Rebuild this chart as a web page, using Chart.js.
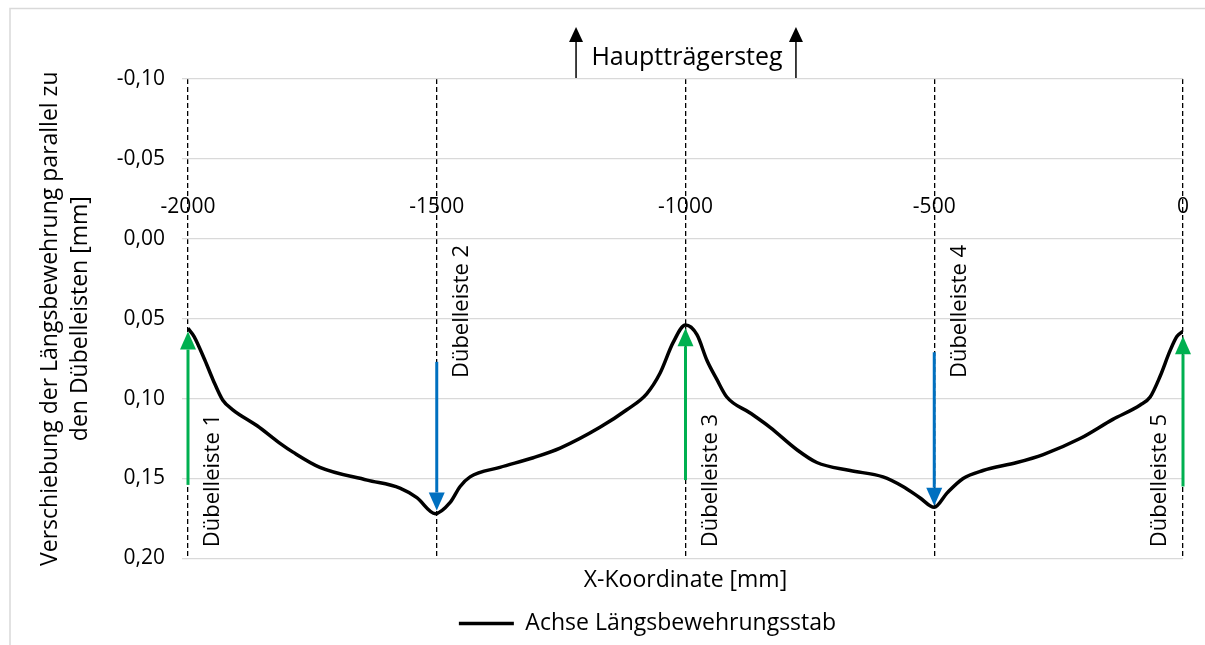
<!DOCTYPE html>
<html>
<head>
<meta charset="utf-8">
<script src="https://cdn.jsdelivr.net/npm/chart.js@4.4.0/dist/chart.umd.min.js"></script>
<style>
  html, body { margin: 0; padding: 0; background: #fff; }
  canvas { display: block; }
</style>
</head>
<body>
<canvas id="chart-verschiebung" width="1205" height="645"></canvas>
<script>
// X-Koordinate [mm] und Verschiebung [mm] entlang der Achse
const xKoordinate = [-2000, -1988, -1966, -1950, -1930, -1910, -1861, -1815, -1789, -1735, -1640, -1574, -1540, -1503,
    -1473, -1453, -1433, -1373, -1306, -1252, -1172, -1118, -1078, -1051, -1025, -1000,
    -977, -957, -937, -917, -870, -830, -776, -736, -669, -603, -563, -529, -500,
    -474, -442, -402, -334, -281, -207, -141, -86, -66, -46, -26, -12, 0];
const verschiebung = [0.056, 0.061, 0.076, 0.088, 0.101, 0.107, 0.117, 0.128, 0.1335, 0.143, 0.151, 0.156, 0.162, 0.172,
    0.165, 0.155, 0.149, 0.143, 0.137, 0.131, 0.118, 0.107, 0.097, 0.084, 0.065, 0.054,
    0.060, 0.076, 0.088, 0.099, 0.109, 0.118, 0.132, 0.140, 0.145, 0.149, 0.155, 0.162, 0.168,
    0.159, 0.150, 0.145, 0.140, 0.135, 0.125, 0.113, 0.104, 0.099, 0.086, 0.070, 0.061, 0.058];

// Dübelleisten: Lage und Pfeile (Verschiebung von / bis)
const leistenX = [-2000, -1500, -1000, -500, 0];
const leistenNamen = ['Dübelleiste 1', 'Dübelleiste 2', 'Dübelleiste 3', 'Dübelleiste 4', 'Dübelleiste 5'];
const pfeilVon = [0.154, 0.077, 0.151, 0.071, 0.155];
const pfeilBis = [0.058, 0.170, 0.056, 0.167, 0.061];

// Hauptträgersteg
const stegX = [-1220, -778];

const schrift = '"Open Sans", sans-serif';
Chart.defaults.font.family = schrift;
Chart.defaults.color = '#000';

function pfeil(ctx, x, y1, y2, farbe, breite, kopfB, kopfL) {
    const dir = Math.sign(y2 - y1);
    ctx.strokeStyle = farbe;
    ctx.fillStyle = farbe;
    ctx.lineWidth = breite;
    ctx.beginPath();
    ctx.moveTo(x, y1);
    ctx.lineTo(x, y2 - dir * kopfL);
    ctx.stroke();
    ctx.beginPath();
    ctx.moveTo(x, y2);
    ctx.lineTo(x - kopfB / 2, y2 - dir * kopfL);
    ctx.lineTo(x + kopfB / 2, y2 - dir * kopfL);
    ctx.closePath();
    ctx.fill();
}

const rahmen = {
    id: 'rahmen',
    beforeDraw(chart) {
        const ctx = chart.ctx;
        ctx.save();
        ctx.fillStyle = '#fff';
        ctx.fillRect(0, 0, chart.width, chart.height);
        ctx.strokeStyle = '#d9d9d9';
        ctx.lineWidth = 1.5;
        ctx.beginPath();
        ctx.moveTo(chart.width, 8.5);
        ctx.lineTo(10, 8.5);
        ctx.lineTo(10, chart.height);
        ctx.stroke();
        ctx.restore();
    },
    afterLayout(chart) {
        // Legende etwas nach rechts schieben wie im Original
        chart.legend.left += 46;
        chart.legend.right += 46;
    }
};

const beschriftung = {
    id: 'beschriftung',
    beforeDatasetsDraw(chart) {
        const {ctx, scales: {x, y}} = chart;
        ctx.save();
        ctx.fillStyle = '#000';
        ctx.font = '21px ' + schrift;
        ctx.textAlign = 'center';
        ctx.textBaseline = 'middle';
        const yLabel = y.getPixelForValue(0) - 32;
        x.ticks.forEach(t => {
            ctx.fillText(String(t.value), x.getPixelForValue(t.value), yLabel);
        });
        ctx.restore();
    },
    afterDatasetsDraw(chart) {
        const {ctx, scales: {x, y}, chartArea} = chart;
        ctx.save();
        // Pfeile an den Dübelleisten
        leistenX.forEach((lx, i) => {
            const px = x.getPixelForValue(lx);
            const runter = pfeilBis[i] > pfeilVon[i];
            pfeil(ctx, px, y.getPixelForValue(pfeilVon[i]), y.getPixelForValue(pfeilBis[i]),
                runter ? '#0070c0' : '#00b050', 3, 16, 18);
        });
        // Beschriftung der Dübelleisten
        ctx.fillStyle = '#000';
        ctx.font = '22px ' + schrift;
        ctx.textBaseline = 'middle';
        leistenX.forEach((lx, i) => {
            const letzte = i === leistenX.length - 1;
            const px = x.getPixelForValue(lx) + (letzte ? -23 : 25);
            const runter = pfeilBis[i] > pfeilVon[i];
            ctx.save();
            if (runter) {
                ctx.translate(px, y.getPixelForValue(0) + 6);
                ctx.rotate(-Math.PI / 2);
                ctx.textAlign = 'right';
            } else {
                ctx.translate(px, y.getPixelForValue(0.193));
                ctx.rotate(-Math.PI / 2);
                ctx.textAlign = 'left';
            }
            ctx.fillText(leistenNamen[i], 0, 0);
            ctx.restore();
        });
        // Hauptträgersteg
        stegX.forEach(sx => {
            pfeil(ctx, x.getPixelForValue(sx), chartArea.top - 1, 27, '#000', 1.5, 14, 15);
        });
        ctx.font = '25px ' + schrift;
        ctx.textAlign = 'center';
        ctx.textBaseline = 'alphabetic';
        ctx.fillText('Hauptträgersteg',
            (x.getPixelForValue(stegX[0]) + x.getPixelForValue(stegX[1])) / 2 + 1, 65);
        ctx.restore();
    }
};

new Chart(document.getElementById('chart-verschiebung'), {
    type: 'scatter',
    data: {
        datasets: [{
            label: 'Achse Längsbewehrungsstab',
            data: xKoordinate.map((v, i) => ({x: v, y: verschiebung[i]})),
            showLine: true,
            borderColor: '#000',
            backgroundColor: '#000',
            borderWidth: 3.5,
            pointRadius: 0,
            pointHoverRadius: 0,
            cubicInterpolationMode: 'monotone'
        }]
    },
    options: {
        responsive: false,
        animation: false,
        layout: {
            padding: {left: 20, right: 22, top: 79, bottom: 0}
        },
        scales: {
            x: {
                type: 'linear',
                position: 'bottom',
                min: -2000,
                max: 0,
                ticks: {stepSize: 500, display: false},
                grid: {color: '#000', lineWidth: 1.3, drawTicks: false},
                border: {display: false, dash: [5, 3]},
                title: {
                    display: true,
                    text: 'X-Koordinate [mm]',
                    font: {size: 23},
                    padding: {top: 8, bottom: 16}
                }
            },
            y: {
                reverse: true,
                min: -0.1,
                max: 0.2,
                afterFit(scale) { scale.width = 168; },
                ticks: {
                    stepSize: 0.05,
                    padding: 17,
                    font: {size: 21},
                    callback: v => v.toFixed(2).replace('.', ',')
                },
                grid: {color: '#d9d9d9', lineWidth: 1.3, tickLength: 6},
                border: {display: false},
                title: {
                    display: true,
                    text: ['Verschiebung der Längsbewehrung parallel zu', 'den Dübelleisten [mm]'],
                    font: {size: 23, lineHeight: 1.3},
                    padding: {top: 16, bottom: 0}
                }
            }
        },
        plugins: {
            legend: {
                position: 'bottom',
                labels: {
                    usePointStyle: true,
                    pointStyle: 'line',
                    pointStyleWidth: 55,
                    padding: 2,
                    font: {size: 23},
                    color: '#000'
                }
            },
            tooltip: {enabled: false}
        }
    },
    plugins: [rahmen, beschriftung]
});
</script>
</body>
</html>
